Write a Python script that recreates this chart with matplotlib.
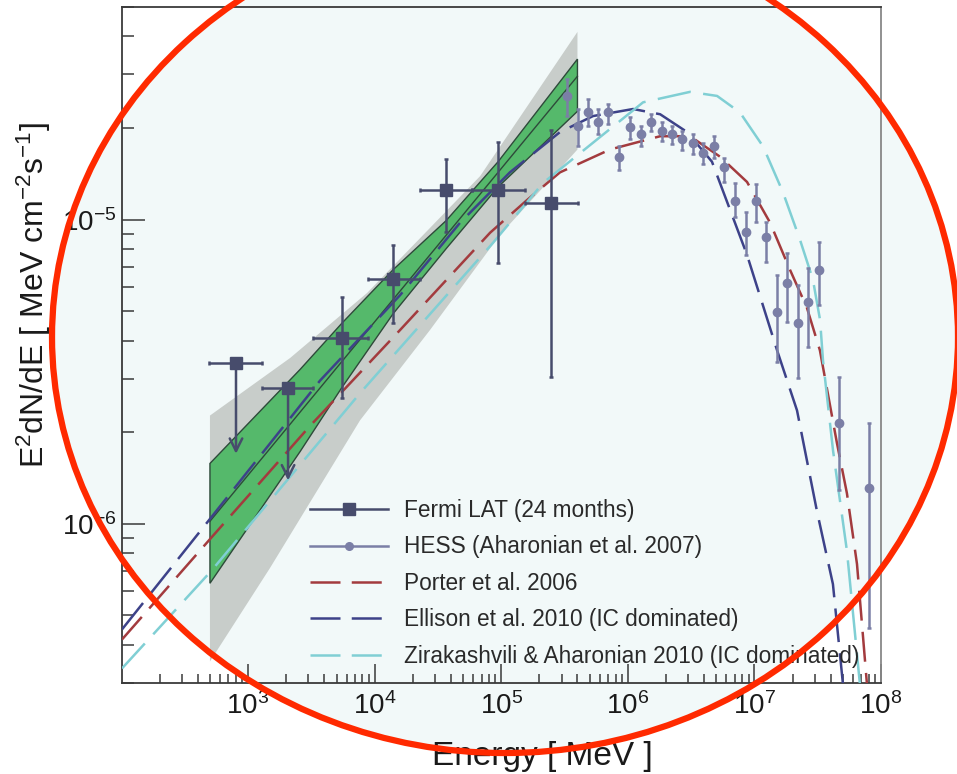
import numpy as np
import matplotlib
matplotlib.use("Agg")
import matplotlib.pyplot as plt
from matplotlib.patches import Ellipse
from matplotlib.ticker import LogLocator, NullFormatter, FixedLocator

plt.rcParams['font.family'] = ['Liberation Sans', 'DejaVu Sans']
plt.rcParams['mathtext.default'] = 'regular'

# Fermi LAT (24 months) - energies in MeV, E^2 dN/dE in MeV cm^-2 s^-1
fermi_e = [803, 2070, 5520, 13960, 36650, 94400, 247000]
fermi_e_lo = [492, 1290, 3260, 8870, 22900, 58800, 154000]
fermi_e_hi = [1290, 3260, 8870, 22900, 58800, 154000, 405000]
fermi_f = [3.37e-6, 2.79e-6, 4.08e-6, 6.38e-6, 1.247e-5, 1.256e-5, 1.13e-5]
fermi_f_hi = [np.nan, np.nan, 5.57e-6, 8.27e-6, 1.578e-5, 1.795e-5, 1.97e-5]
fermi_f_lo = [np.nan, np.nan, 2.59e-6, 4.57e-6, 9.13e-6, 7.21e-6, 3.05e-6]
fermi_ul = [True, True, False, False, False, False, False]
fermi_ul_tip = [1.70e-6, 1.39e-6]

# HESS (Aharonian et al. 2007)
hess_e = [3.31e5, 4.05e5, 4.85e5, 5.82e5, 6.98e5, 8.51e5, 1.04e6, 1.27e6, 1.52e6,
          1.86e6, 2.23e6, 2.68e6, 3.27e6, 3.93e6, 4.80e6, 5.75e6, 7.03e6, 8.59e6,
          1.03e7, 1.24e7, 1.51e7, 1.81e7, 2.21e7, 2.65e7, 3.24e7, 4.66e7, 8.04e7]
hess_f = [2.55e-5, 2.03e-5, 2.25e-5, 2.10e-5, 2.25e-5, 1.61e-5, 2.01e-5, 1.91e-5, 2.09e-5,
          1.95e-5, 1.91e-5, 1.84e-5, 1.78e-5, 1.66e-5, 1.74e-5, 1.49e-5, 1.15e-5, 9.12e-6,
          1.15e-5, 8.79e-6, 4.97e-6, 6.19e-6, 4.57e-6, 5.36e-6, 6.84e-6, 2.14e-6, 1.31e-6]
hess_f_hi = [2.90e-5, 2.31e-5, 2.49e-5, 2.31e-5, 2.40e-5, 1.74e-5, 2.17e-5, 2.03e-5, 2.22e-5,
             2.09e-5, 2.03e-5, 1.95e-5, 1.91e-5, 1.79e-5, 1.88e-5, 1.60e-5, 1.32e-5, 1.06e-5,
             1.31e-5, 9.85e-6, 6.58e-6, 7.78e-6, 6.10e-6, 6.95e-6, 8.46e-6, 3.03e-6, 2.15e-6]
hess_f_lo = [2.19e-5, 1.74e-5, 2.03e-5, 1.91e-5, 2.06e-5, 1.46e-5, 1.84e-5, 1.74e-5, 1.95e-5,
             1.81e-5, 1.77e-5, 1.70e-5, 1.64e-5, 1.52e-5, 1.60e-5, 1.33e-5, 1.02e-5, 7.66e-6,
             9.85e-6, 7.26e-6, 3.40e-6, 4.60e-6, 3.01e-6, 3.81e-6, 5.24e-6, 1.29e-6, 4.54e-7]

# Fermi butterfly (statistical, green) and systematic band (grey)
green_e = [500, 2580, 5520, 13960, 36650, 94400, 4.0e5]
green_up_f = [1.58e-6, 3.22e-6, 4.57e-6, 6.84e-6, 9.92e-6, 1.55e-5, 3.37e-5]
green_lo_f = [6.38e-7, 1.73e-6, 2.81e-6, 4.90e-6, 8.02e-6, 1.28e-5, 2.27e-5]
fit_e = [500, 4.0e5]
fit_f = [1.02e-6, 2.96e-5]
grey_up_e = [500, 2150, 8710, 68100, 4.0e5]
grey_up_f = [2.27e-6, 3.51e-6, 5.74e-6, 1.39e-5, 4.14e-5]
grey_lo_e = [500, 1490, 7670, 27400, 98000, 4.0e5]
grey_lo_f = [3.53e-7, 7.16e-7, 2.19e-6, 4.34e-6, 8.92e-6, 1.70e-5]

# model curves
porter_e = [101, 511, 3090, 15900, 81700, 1.60e5, 2.91e5, 7.23e5, 1.80e6, 3.10e6, 5.35e6,
            8.74e6, 1.33e7, 1.91e7, 2.60e7, 3.29e7, 4.49e7, 5.38e7, 6.46e7, 7.75e7]
porter_f = [4.17e-7, 9.0e-7, 2.10e-6, 4.34e-6, 9.06e-6, 1.16e-5, 1.43e-5, 1.70e-5, 1.88e-5,
            1.88e-5, 1.61e-5, 1.33e-5, 9.77e-6, 6.84e-6, 5.13e-6, 3.72e-6, 1.84e-6, 1.26e-6,
            7.38e-7, 2.96e-7]
ellison_e = [101, 511, 3710, 15900, 47300, 1.17e5, 2.91e5, 5.31e5, 1.10e6, 1.80e6, 2.94e6,
             4.62e6, 8.74e6, 1.51e7, 2.17e7, 3.12e7, 4.17e7, 5.01e7]
ellison_f = [4.50e-7, 1.05e-6, 2.96e-6, 5.65e-6, 9.77e-6, 1.43e-5, 1.94e-5, 2.19e-5, 2.31e-5,
             2.22e-5, 1.94e-5, 1.55e-5, 7.66e-6, 3.72e-6, 2.36e-6, 1.10e-6, 6.34e-7, 2.96e-7]
zira_e = [101, 511, 7670, 86100, 2.14e5, 5.31e5, 1.32e6, 3.10e6, 5.07e6, 7.69e6, 1.17e7,
          1.68e7, 2.29e7, 2.90e7, 3.30e7, 3.48e7, 4.18e7, 5.38e7, 6.82e7]
zira_f = [3.35e-7, 7.0e-7, 2.69e-6, 8.39e-6, 1.32e-5, 1.79e-5, 2.43e-5, 2.63e-5, 2.55e-5,
          2.25e-5, 1.74e-5, 1.23e-5, 8.59e-6, 6.34e-6, 4.68e-6, 3.45e-6, 1.74e-6, 8.15e-7, 2.96e-7]

labels = ["Fermi LAT (24 months)", "HESS (Aharonian et al. 2007)", "Porter et al. 2006",
          "Ellison et al. 2010 (IC dominated)", "Zirakashvili & Aharonian 2010 (IC dominated)"]

c_fermi = '#474c6c'
c_hess = '#7b7fa6'
c_porter = '#a33b3e'
c_ellison = '#3d4289'
c_zira = '#80cfd4'

fig = plt.figure(figsize=(9.57, 7.74), dpi=100)
fig.patch.set_facecolor('white')

# light filled ellipse behind everything
fig.add_artist(Ellipse((0.5277, 0.5646), 0.9467, 1.075, transform=fig.transFigure,
                       fc='#f2f9f9', ec='none', zorder=-5))

ax = fig.add_axes([0.1275, 0.1176, 0.7931, 0.8734])
ax.set_facecolor('none')
ax.set_xscale('log')
ax.set_yscale('log')
ax.set_xlim(101, 1e8)
ax.set_ylim(3e-7, 5e-5)

# bands
ax.fill(grey_up_e + grey_lo_e[::-1], grey_up_f + grey_lo_f[::-1], color='#c8cdca', lw=0, zorder=1)
ax.fill(green_e + green_e[::-1], green_up_f + green_lo_f[::-1], fc='#55b96b',
        ec='#2e4a3a', lw=1.0, zorder=2)
ax.plot(fit_e, fit_f, color='#2e4a3a', lw=1.0, zorder=2)

dash_kw = dict(lw=1.8, zorder=3)
ax.plot(porter_e, porter_f, color=c_porter, dashes=(12, 4.5), **dash_kw)
ax.plot(ellison_e, ellison_f, color=c_ellison, dashes=(13.5, 4.5), **dash_kw)
ax.plot(zira_e, zira_f, color=c_zira, dashes=(13.5, 5), **dash_kw)

# HESS points
hess_e_arr = np.array(hess_e)
hess_f_arr = np.array(hess_f)
ax.errorbar(hess_e_arr, hess_f_arr,
            yerr=[hess_f_arr - np.array(hess_f_lo), np.array(hess_f_hi) - hess_f_arr],
            fmt='o', color=c_hess, ms=6, elinewidth=1.8, capsize=1.5, capthick=1.8, zorder=5)

# Fermi points
fe = np.array(fermi_e)
ff = np.array(fermi_f)
xerr = [fe - np.array(fermi_e_lo), np.array(fermi_e_hi) - fe]
det = ~np.array(fermi_ul)
ax.errorbar(fe, ff, xerr=xerr, fmt='none', ecolor=c_fermi, elinewidth=1.8,
            capsize=1.5, capthick=1.8, zorder=6)
ax.errorbar(fe[det], ff[det],
            yerr=[ff[det] - np.array(fermi_f_lo)[det], np.array(fermi_f_hi)[det] - ff[det]],
            fmt='none', ecolor=c_fermi, elinewidth=1.8, capsize=1.5, capthick=1.8, zorder=6)
ax.plot(fe, ff, 's', color=c_fermi, ms=8.5, zorder=7)
for e, f, tip in zip(fe[~det], ff[~det], fermi_ul_tip):
    ax.annotate('', xy=(e, tip), xytext=(e, f),
                arrowprops=dict(arrowstyle='->,head_length=0.9,head_width=0.45',
                                color=c_fermi, lw=1.8, shrinkA=0, shrinkB=0), zorder=6)

# axes styling
for side in ['left', 'bottom', 'top', 'right']:
    ax.spines[side].set_color('#3a3a3a')
    ax.spines[side].set_linewidth(1.3)
ax.spines['right'].set_color('#888888')
ax.xaxis.set_major_locator(FixedLocator([1e3, 1e4, 1e5, 1e6, 1e7, 1e8]))
ax.xaxis.set_minor_locator(LogLocator(base=10, subs=np.arange(2, 10), numticks=20))
ax.yaxis.set_major_locator(FixedLocator([1e-6, 1e-5]))
ax.yaxis.set_minor_locator(LogLocator(base=10, subs=np.arange(2, 10), numticks=20))
ax.xaxis.set_minor_formatter(NullFormatter())
ax.yaxis.set_minor_formatter(NullFormatter())
ax.tick_params(axis='both', which='both', direction='in', top=False, right=False,
               color='#3a3a3a', width=1.1, labelsize=20, labelcolor='#1a1a1a')
ax.tick_params(axis='x', which='major', length=13.5, pad=7)
ax.tick_params(axis='x', which='minor', length=6.5)
ax.tick_params(axis='y', which='major', length=16.5, pad=4)
ax.tick_params(axis='y', which='minor', length=8.5)

# legend
handles = [
    plt.Line2D([], [], color=c_fermi, lw=1.8, marker='s', ms=8),
    plt.Line2D([], [], color=c_hess, lw=1.8, marker='o', ms=5.5),
    plt.Line2D([], [], color=c_porter, lw=1.8, dashes=(12, 4.5)),
    plt.Line2D([], [], color=c_ellison, lw=1.8, dashes=(12, 4.5)),
    plt.Line2D([], [], color=c_zira, lw=1.8, dashes=(12, 4.5)),
]
leg = ax.legend(handles, labels, loc='upper left', bbox_to_anchor=(0.2477, 0.272),
                frameon=False, fontsize=16.3, handlelength=3.45, handletextpad=0.72,
                labelspacing=0.59, borderpad=0, borderaxespad=0)
for t in leg.get_texts():
    t.set_color('#2a2a2a')
leg.set_zorder(8)

fig.text(34 / 957, 1 - 295 / 774, r'E$^{2}$dN/dE [ MeV cm$^{-2}$s$^{-1}$]',
         rotation=90, ha='center', va='center', fontsize=23, color='#1a1a1a')
fig.text(542 / 957, 1 - 757 / 774, 'Energy [ MeV ]', ha='center', va='center',
         fontsize=24, color='#1a1a1a')

# red outline on top of everything
fig.add_artist(Ellipse((0.5277, 0.5646), 0.9467, 1.075, transform=fig.transFigure,
                       fill=False, ec='#ff2a00', lw=4.5, zorder=20))

fig.savefig('out.png', dpi=100)
